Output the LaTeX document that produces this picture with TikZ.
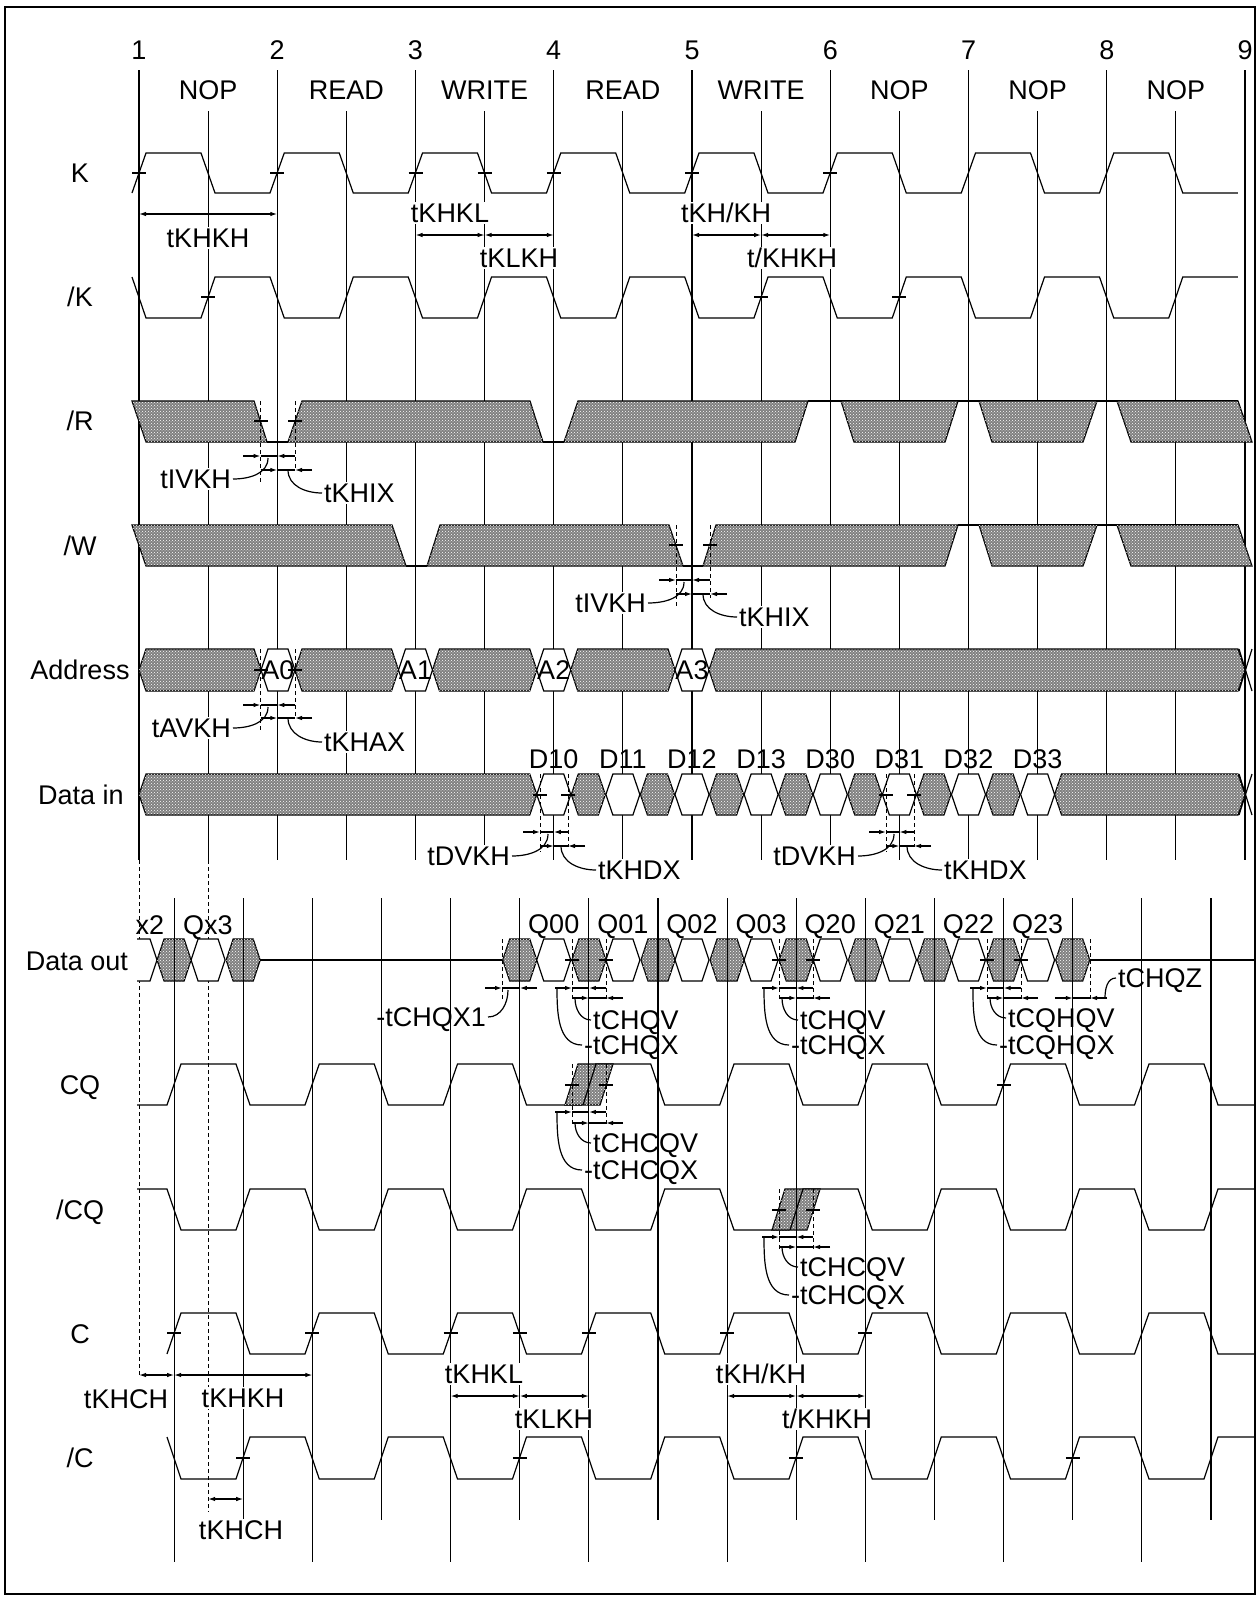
\documentclass[tikz,border=0pt]{standalone}
\usepackage{fontspec}
\setmainfont{Liberation Sans}
\usetikzlibrary{arrows.meta,patterns}

\newcommand{\busseg}[5]{\draw[#1] ({#2},{0.5*(#4)+0.5*(#5)}) -- ({#2+7},#4) -- ({#3-7},#4) -- ({#3},{0.5*(#4)+0.5*(#5)}) -- ({#3-7},#5) -- ({#2+7},#5) -- cycle;}
\newcommand{\tck}[2]{\draw ({#1-7},#2) -- ({#1+7},#2);}
\newcommand{\tpair}[5]{\draw[->] (#2,#1) -- (#3,#1); \draw (#3,#1) -- (#4,#1); \draw[->] (#5,#1) -- (#4,#1);}

\begin{document}
\begin{tikzpicture}[x=1pt,y=1pt,line width=1.2pt,
  >={Latex[length=7pt,width=4.5pt]},
  every node/.style={font=\fontsize{27}{32}\selectfont, inner sep=1.5pt, text height=19.5pt, text depth=0pt},
  wlbl/.style={fill=white},
  hatch/.style={draw, fill=black!50, postaction={pattern=crosshatch dots, pattern color=white}},
  valid/.style={draw, fill=white},
  guide/.style={line width=1pt, dash pattern=on 4pt off 3pt}]
\useasboundingbox (0,0) rectangle (1258,-1598);
\draw [line width=2.5pt] (5,-7) rectangle (1255,-1594);

\foreach \n [count=\i from 0] in {1,...,9} {\node (num\n) at ({139+138.25*\i},-50) {\n};}
\foreach \op [count=\i from 0] in {NOP,READ,WRITE,READ,WRITE,NOP,NOP,NOP} {\node (op\i) at ({208.125+138.25*\i},-90) {\op};}

\node (lK) at (80,-173) {K};
\node (lKb) at (80,-297) {/K};
\node (lR) at (80,-421) {/R};
\node (lW) at (80,-546) {/W};
\node (lA) at (80,-670) {Address};
\node (lDin) at (81,-795) {Data in};
\node (lDout) at (77,-961) {Data out};
\node (lCQ) at (80,-1085) {CQ};
\node (lCQb) at (80,-1210) {/CQ};
\node (lC) at (80,-1334) {C};
\node (lCb) at (80,-1458) {/C};

\foreach \i in {0,...,8} {\draw ({139+138.25*\i},-70) -- ({139+138.25*\i},-860);}
\foreach \i in {0,...,7} {\draw ({208.125+138.25*\i},-111) -- ({208.125+138.25*\i},-860);}
\draw [guide] (139,-860) -- (139,-1375);
\draw [guide] (208.125,-860) -- (208.125,-1512);

\draw (132,-193) \foreach \i in {0,...,7} { -- ({146+138.25*\i},-153) -- ({201+138.25*\i},-153) -- ({215+138.25*\i},-193) -- ({270+138.25*\i},-193) };
\draw (132,-277) \foreach \i in {0,...,7} { -- ({146+138.25*\i},-318) -- ({201+138.25*\i},-318) -- ({215+138.25*\i},-277) -- ({270+138.25*\i},-277) };
\foreach \x in {139,277.25,415.5,484.6,553.75,692,830.25} {\tck{\x}{-173}}
\foreach \x in {208.1,761.1,899.4} {\tck{\x}{-297}}

\draw [<->] (139,-214) -- (277.25,-214);
\node [wlbl] (tkhkh1) at (208,-238) {tKHKH};
\node [wlbl] (tkhkl1) at (450,-213) {tKHKL};
\draw [<->] (415.5,-235) -- (484.6,-235);
\draw [<->] (484.6,-235) -- (553.75,-235);
\node [wlbl] (tklkh1) at (519,-258) {tKLKH};
\node [wlbl] (tkhbkh1) at (726,-213) {tKH/KH};
\draw [<->] (692,-235) -- (761.1,-235);
\draw [<->] (761.1,-235) -- (830.25,-235);
\node [wlbl] (tbkhkh1) at (792,-258) {t/KHKH};

\draw (267,-442) -- (288,-442);
\draw (543,-442) -- (564,-442);
\draw (808,-401) -- (1238,-401);
\draw [hatch] (132,-401) -- (254,-401) -- (267,-442) -- (146,-442) -- cycle;
\draw [hatch] (288,-442) -- (302,-401) -- (530,-401) -- (543,-442) -- cycle;
\draw [hatch] (564,-442) -- (578,-401) -- (808,-401) -- (795,-442) -- cycle;
\draw [hatch] (841,-401) -- (854,-442) -- (945,-442) -- (958,-401) -- cycle;
\draw [hatch] (979,-401) -- (992,-442) -- (1083,-442) -- (1097,-401) -- cycle;
\draw [hatch] (1117,-401) -- (1131,-442) -- (1252,-442) -- (1238,-401) -- cycle;
\draw [guide] (260.5,-401) -- (260.5,-483);
\draw [guide] (295,-401) -- (295,-470);
\tck{260.5}{-421} \tck{295}{-421}
\tpair{-456}{243}{260.5}{277.25}{295}
\tpair{-470}{260.5}{277.25}{295}{312}
\node [wlbl, anchor=east] (tivkh1) at (233,-479) {tIVKH};
\node [wlbl, anchor=west] (tkhix1) at (322,-493) {tKHIX};
\draw (268,-458) to[out=-90,in=0] (tivkh1.east);
\draw (288,-470) to[out=-90,in=180] (tkhix1.west);

\draw (406,-566) -- (427,-566);
\draw (683,-566) -- (703,-566);
\draw (958,-525) -- (1238,-525);
\draw [hatch] (132,-525) -- (392,-525) -- (406,-566) -- (146,-566) -- cycle;
\draw [hatch] (427,-566) -- (440,-525) -- (669,-525) -- (683,-566) -- cycle;
\draw [hatch] (703,-566) -- (716,-525) -- (958,-525) -- (945,-566) -- cycle;
\draw [hatch] (979,-525) -- (992,-566) -- (1083,-566) -- (1097,-525) -- cycle;
\draw [hatch] (1117,-525) -- (1131,-566) -- (1252,-566) -- (1238,-525) -- cycle;
\draw [guide] (676,-525) -- (676,-608);
\draw [guide] (710,-525) -- (710,-598);
\tck{676}{-545} \tck{710}{-545}
\tpair{-580}{659}{676}{692}{710}
\tpair{-594}{676}{692}{710}{727}
\node [wlbl, anchor=east] (tivkh2) at (648,-603) {tIVKH};
\node [wlbl, anchor=west] (tkhix2) at (737,-617) {tKHIX};
\draw (684,-582) to[out=-90,in=0] (tivkh2.east);
\draw (703,-594) to[out=-90,in=180] (tkhix2.west);

\busseg{hatch}{139}{261}{-649}{-691}
\busseg{valid}{261}{295}{-649}{-691}
\busseg{hatch}{295}{398.5}{-649}{-691}
\busseg{valid}{398.5}{432.5}{-649}{-691}
\busseg{hatch}{432.5}{536.75}{-649}{-691}
\busseg{valid}{536.75}{570.75}{-649}{-691}
\busseg{hatch}{570.75}{675}{-649}{-691}
\busseg{valid}{675}{709}{-649}{-691}
\busseg{hatch}{709}{1245}{-649}{-691}
\draw (1239,-649) -- (1252,-691);
\draw (1252,-649) -- (1239,-691);
\node (a0) at (278,-670) {A0};
\node (a1) at (415.5,-670) {A1};
\node (a2) at (553.75,-670) {A2};
\node (a3) at (692,-670) {A3};
\draw [guide] (260.5,-649) -- (260.5,-732);
\draw [guide] (295,-649) -- (295,-718);
\tck{260.5}{-670} \tck{295}{-670}
\tpair{-705}{243}{260.5}{277.25}{295}
\tpair{-718}{260.5}{277.25}{295}{312}
\node [wlbl, anchor=east] (tavkh) at (233,-728) {tAVKH};
\node [wlbl, anchor=west] (tkhax) at (322,-742) {tKHAX};
\draw (268,-707) to[out=-90,in=0] (tavkh.east);
\draw (288,-718) to[out=-90,in=180] (tkhax.west);

\busseg{hatch}{139}{536.75}{-774}{-815}
\foreach \k in {0,...,6} {
  \pgfmathsetmacro\c{588.3+69.125*\k}
  \busseg{hatch}{\c-17}{\c+17}{-774}{-815}
}
\foreach \k in {0,...,7} {
  \pgfmathsetmacro\c{553.75+69.125*\k}
  \busseg{valid}{\c-17}{\c+17}{-774}{-815}
}
\busseg{hatch}{1054.6}{1245}{-774}{-815}
\draw (1239,-774) -- (1252,-815);
\draw (1252,-774) -- (1239,-815);
\foreach \d [count=\i from 0] in {D10,D11,D12,D13,D30,D31,D32,D33} {\node (\d) at ({553.75+69.125*\i},-759) {\d};}
\draw [guide] (540,-774) -- (540,-852);
\draw [guide] (568,-774) -- (568,-847);
\draw [guide] (886,-774) -- (886,-852);
\draw [guide] (914,-774) -- (914,-847);
\tck{540}{-795} \tck{568}{-795} \tck{886}{-795} \tck{914}{-795}
\tpair{-832}{523}{540}{553.75}{568}
\tpair{-846}{540}{553.75}{568}{585}
\tpair{-832}{869}{886}{899.4}{914}
\tpair{-846}{886}{899.4}{914}{931}
\node [wlbl, anchor=east] (tdvkh1) at (512,-856) {tDVKH};
\node [wlbl, anchor=west] (tkhdx1) at (596,-870) {tKHDX};
\node [wlbl, anchor=east] (tdvkh2) at (858,-856) {tDVKH};
\node [wlbl, anchor=west] (tkhdx2) at (942,-870) {tKHDX};
\draw (548,-834) to[out=-90,in=0] (tdvkh1.east);
\draw (561,-846) to[out=-90,in=180] (tkhdx1.west);
\draw (894,-834) to[out=-90,in=0] (tdvkh2.east);
\draw (907,-846) to[out=-90,in=180] (tkhdx2.west);

\draw (260,-960) -- (502,-960);
\draw (1089,-960) -- (1255,-960);
\draw [fill=white] (137,-939) -- (150,-939) -- (157,-960) -- (150,-981) -- (137,-981);
\foreach \c in {174.1,243.2,519.75,588.9,658,727.1,796.25,865.4,934.5,1003.6,1072.75} {\busseg{hatch}{\c-17}{\c+17}{-939}{-981}}
\foreach \c in {208.1,553.75,622.9,692,761.1,830.25,899.4,968.5,1037.6} {\busseg{valid}{\c-17}{\c+17}{-939}{-981}}
\node (qx2) at (150,-925) {x2};
\node (qx3) at (208,-925) {Qx3};
\foreach \q [count=\i from 0] in {Q00,Q01,Q02,Q03,Q20,Q21,Q22,Q23} {\node (\q) at ({553.75+69.125*\i},-924) {\q};}
\foreach \x in {502,572,606,779,813,987,1021,1090} {\draw [guide] (\x,-939) -- (\x,-1000);}
\foreach \x in {572,606,779,813,987,1021} {\tck{\x}{-960}}
\tpair{-988}{485}{502}{519.75}{537}
\tpair{-988}{555}{572}{588.9}{606}
\tpair{-998}{572}{588.9}{606}{623}
\tpair{-988}{762}{779}{796.25}{813}
\tpair{-998}{779}{796.25}{813}{830}
\tpair{-988}{970}{987}{1003.6}{1021}
\tpair{-998}{987}{1003.6}{1021}{1038}
\tpair{-998}{1055}{1072.75}{1090}{1107}
\node [anchor=east] (tchqx1) at (488,-1017) {-tCHQX1};
\node [anchor=west] (tchqv1) at (591,-1020) {tCHQV};
\node [anchor=west] (tchqx2) at (582,-1045) {-tCHQX};
\node [anchor=west] (tchqv2) at (798,-1020) {tCHQV};
\node [anchor=west] (tchqx3) at (789,-1045) {-tCHQX};
\node [anchor=west] (tcqhqv) at (1006,-1018) {tCQHQV};
\node [anchor=west] (tcqhqx) at (997,-1045) {-tCQHQX};
\node [anchor=west] (tchqz) at (1116,-978) {tCHQZ};
\draw (508,-990) to[out=-90,in=0] (tchqx1.east);
\draw (575,-998) to[out=-90,in=180] (tchqv1.west);
\draw (557,-988) to[out=-90,in=180] (tchqx2.west);
\draw (782,-998) to[out=-90,in=180] (tchqv2.west);
\draw (764,-988) to[out=-90,in=180] (tchqx3.west);
\draw (990,-998) to[out=-90,in=180] (tcqhqv.west);
\draw (973,-988) to[out=-90,in=180] (tcqhqx.west);
\draw (1105,-998) to[out=90,in=180] (tchqz.west);

\draw (137,-1105) -- (167,-1105) \foreach \i in {0,...,6} { -- ({181+138.25*\i},-1064) -- ({236+138.25*\i},-1064) -- ({250+138.25*\i},-1105) -- ({305+138.25*\i},-1105) } -- (1149,-1064) -- (1204,-1064) -- (1218,-1105) -- (1255,-1105);
\draw [hatch] (565,-1105) -- (578,-1064) -- (613,-1064) -- (600,-1105) -- cycle;
\draw (583,-1105) -- (596,-1064);
\draw [guide] (572,-1064) -- (572,-1125);
\draw [guide] (606,-1064) -- (606,-1125);
\tck{572}{-1085} \tck{606}{-1085} \tck{1003.6}{-1085}
\tpair{-1112}{555}{572}{588.9}{606}
\tpair{-1123}{572}{588.9}{606}{623}
\node [anchor=west] (tchcqv1) at (591,-1143) {tCHCQV};
\node [anchor=west] (tchcqx1) at (582,-1170) {-tCHCQX};
\draw (575,-1123) to[out=-90,in=180] (tchcqv1.west);
\draw (557,-1112) to[out=-90,in=180] (tchcqx1.west);

\draw (137,-1189) -- (167,-1189) \foreach \i in {0,...,6} { -- ({181+138.25*\i},-1230) -- ({236+138.25*\i},-1230) -- ({250+138.25*\i},-1189) -- ({305+138.25*\i},-1189) } -- (1149,-1230) -- (1204,-1230) -- (1218,-1189) -- (1255,-1189);
\draw [hatch] (772,-1230) -- (785,-1189) -- (820,-1189) -- (807,-1230) -- cycle;
\draw (790,-1230) -- (803,-1189);
\draw [guide] (779,-1189) -- (779,-1250);
\draw [guide] (813,-1189) -- (813,-1250);
\tck{779}{-1210} \tck{813}{-1210}
\tpair{-1237}{762}{779}{796.25}{813}
\tpair{-1247}{779}{796.25}{813}{830}
\node [anchor=west] (tchcqv2) at (798,-1267) {tCHCQV};
\node [anchor=west] (tchcqx2) at (789,-1295) {-tCHCQX};
\draw (782,-1247) to[out=-90,in=180] (tchcqv2.west);
\draw (764,-1237) to[out=-90,in=180] (tchcqx2.west);

\draw (167,-1354) \foreach \i in {0,...,6} { -- ({181+138.25*\i},-1313) -- ({236+138.25*\i},-1313) -- ({250+138.25*\i},-1354) -- ({305+138.25*\i},-1354) } -- (1149,-1313) -- (1204,-1313) -- (1218,-1354) -- (1255,-1354);
\draw (167,-1437) \foreach \i in {0,...,6} { -- ({181+138.25*\i},-1479) -- ({236+138.25*\i},-1479) -- ({250+138.25*\i},-1437) -- ({305+138.25*\i},-1437) } -- (1149,-1479) -- (1204,-1479) -- (1218,-1437) -- (1255,-1437);
\foreach \x in {174.1,312.4,450.6,519.75,588.9,727.1,865.4} {\tck{\x}{-1333}}
\foreach \x in {243.2,519.75,796.25,1072.75} {\tck{\x}{-1458}}

\foreach \i in {0,...,7} {\draw ({174.125+138.25*\i},-898) -- ({174.125+138.25*\i},-1562);}
\foreach \i in {0,...,7} {\draw ({243.25+138.25*\i},-898) -- ({243.25+138.25*\i},-1520);}

\draw [<->] (139,-1375) -- (174.1,-1375);
\draw [<->] (174.1,-1375) -- (312.4,-1375);
\node [wlbl] (tkhch1) at (126,-1399) {tKHCH};
\node [wlbl] (tkhkh2) at (243,-1398) {tKHKH};
\draw [<->] (208.1,-1499) -- (243.2,-1499);
\node [wlbl] (tkhch2) at (241,-1530) {tKHCH};
\node [wlbl] (tkhkl2) at (484,-1374) {tKHKL};
\draw [<->] (450.6,-1396) -- (519.75,-1396);
\draw [<->] (519.75,-1396) -- (588.9,-1396);
\node [wlbl] (tklkh2) at (554,-1419) {tKLKH};
\node [wlbl] (tkhbkh2) at (761,-1374) {tKH/KH};
\draw [<->] (727.1,-1396) -- (796.25,-1396);
\draw [<->] (796.25,-1396) -- (865.4,-1396);
\node [wlbl] (tbkhkh2) at (827,-1419) {t/KHKH};
\end{tikzpicture}
\end{document}
